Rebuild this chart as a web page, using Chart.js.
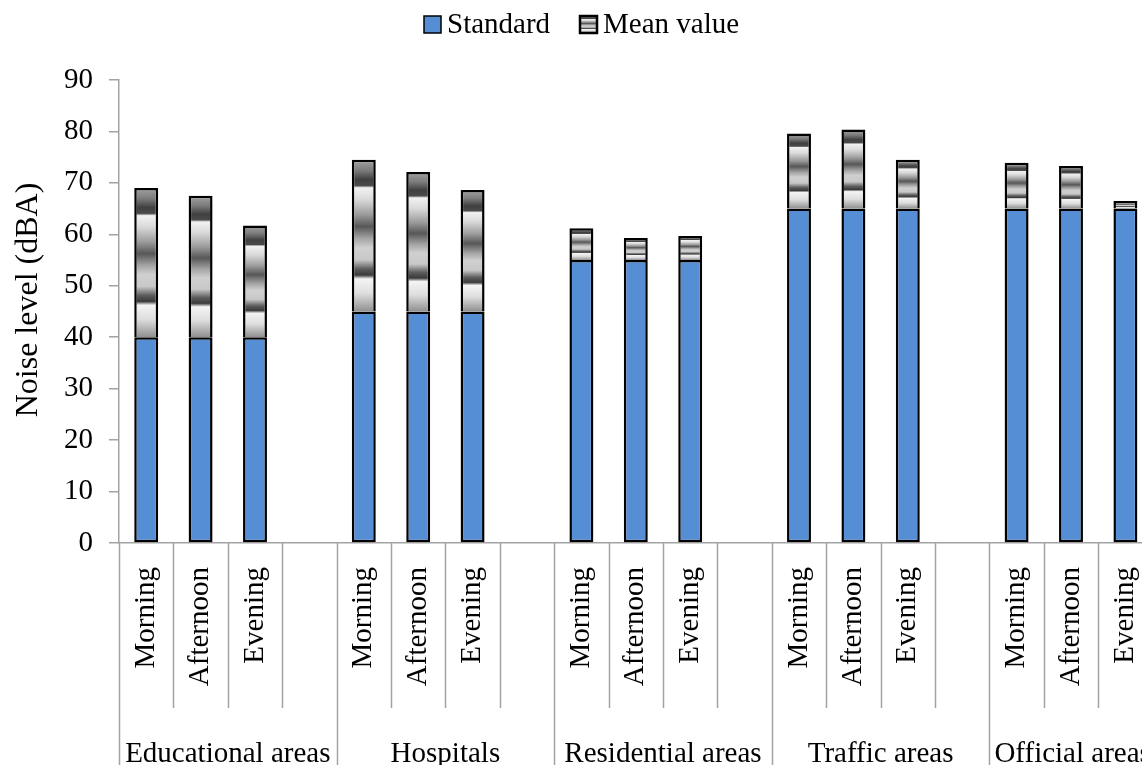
<!DOCTYPE html>
<html>
<head>
<meta charset="utf-8">
<script src="https://cdn.jsdelivr.net/npm/chart.js@4/dist/chart.umd.min.js"></script>
<style>
  html, body { margin: 0; padding: 0; background: #fff; width: 1142px; height: 765px; overflow: hidden; }
  #wrap { width: 1215px; height: 765px; }
</style>
</head>
<body>
<div id="wrap"><canvas id="c" width="1215" height="765"></canvas></div>
<script>
// Noise levels (dBA) by area type and time of day
const areas = ['Educational areas', 'Hospitals', 'Residential areas', 'Traffic areas', 'Official areas'];
const periods = ['Morning', 'Afternoon', 'Evening', ''];
const standardLevels = [40, 40, 40, null, 45, 45, 45, null, 55, 55, 55, null, 65, 65, 65, null, 65, 65, 65, null];
const meanLevels = [69.0, 67.5, 61.7, null, 74.5, 72.1, 68.6, null, 61.2, 59.3, 59.7, null, 79.6, 80.4, 74.5, null, 73.9, 73.3, 66.5, null];
const yTicks = [0, 10, 20, 30, 40, 50, 60, 70, 80, 90];

const labels = areas.flatMap(() => periods);
const FONT = 'Liberation Serif';
const TXT = 29;
const AXIS = '#a3a3a3';
const AXIS_Y = 543;

// banded grey fill used for the mean-value bars
const bandStops = [
  [0, '#a2a2a2'], [0.07, '#7c7c7c'], [0.13, '#404040'], [0.17, '#4a4a4a'], [0.185, '#f2f2f2'],
  [0.26, '#dadada'], [0.36, '#9c9c9c'], [0.44, '#575757'], [0.52, '#a5a5a5'], [0.58, '#d0d0d0'],
  [0.66, '#c8c8c8'], [0.72, '#5c5c5c'], [0.76, '#3a3a3a'], [0.785, '#f4f4f4'], [0.88, '#dedede'], [1, '#8f8f8f']
];
function bandGradient(ctx, top, bottom) {
  const g = ctx.createLinearGradient(0, top, 0, bottom);
  bandStops.forEach(([o, c]) => g.addColorStop(o, c));
  return g;
}

// legend, y title and two-level category axis
const decor = {
  id: 'decor',
  afterDraw(chart) {
    const { ctx, scales: { x }, chartArea } = chart;
    const n = labels.length;
    const half = (x.getPixelForValue(1) - x.getPixelForValue(0)) / 2;
    const bottom = chartArea.bottom;
    ctx.save();

    // separators below the axis
    ctx.strokeStyle = AXIS;
    ctx.lineWidth = 1.5;
    for (let i = 0; i <= n; i++) {
      const bx = Math.round(x.getPixelForValue(i) - half) + 0.5;
      const isGroup = i % periods.length === 0;
      ctx.beginPath();
      ctx.moveTo(bx, bottom);
      ctx.lineTo(bx, isGroup ? chart.height : 708);
      ctx.stroke();
    }

    // period labels, rotated
    ctx.fillStyle = '#000';
    ctx.font = `${TXT}px "${FONT}"`;
    labels.forEach((lab, i) => {
      if (!lab) return;
      ctx.save();
      ctx.translate(x.getPixelForValue(i), 567);
      ctx.rotate(-Math.PI / 2);
      ctx.textAlign = 'right';
      ctx.textBaseline = 'middle';
      ctx.fillText(lab, 0, 0);
      ctx.restore();
    });

    // area labels
    const viewRight = window.innerWidth;
    ctx.textAlign = 'center';
    ctx.textBaseline = 'alphabetic';
    areas.forEach((a, g) => {
      const left = x.getPixelForValue(g * periods.length) - half;
      const right = x.getPixelForValue((g + 1) * periods.length - 1) + half;
      const w = ctx.measureText(a).width;
      let cx = (left + right) / 2;
      if (cx + w / 2 > viewRight) cx = Math.max(left + w / 2 + 5, viewRight - w / 2);
      ctx.fillText(a, cx, 762);
    });

    // y axis title
    ctx.save();
    ctx.font = `32px "${FONT}"`;
    ctx.translate(29, 300);
    ctx.rotate(-Math.PI / 2);
    ctx.textAlign = 'center';
    ctx.textBaseline = 'middle';
    ctx.fillText('Noise level (dBA)', 0, 0);
    ctx.restore();

    // legend
    const items = [
      { text: 'Standard', x: 424 },
      { text: 'Mean value', x: 580 }
    ];
    const box = 17, by = 16;
    items.forEach((it, k) => {
      ctx.fillStyle = k === 0 ? chart.data.datasets[0].backgroundColor : bandGradient(ctx, by, by + box);
      ctx.fillRect(it.x, by, box, box);
      ctx.lineWidth = k === 0 ? 1.5 : 2.5;
      ctx.strokeStyle = '#000';
      ctx.strokeRect(it.x, by, box, box);
      ctx.fillStyle = '#000';
      ctx.textAlign = 'left';
      ctx.textBaseline = 'alphabetic';
      ctx.fillText(it.text, it.x + box + 6, 33);
    });
    ctx.restore();
  }
};

Chart.defaults.font.family = FONT;
Chart.defaults.color = '#000';

new Chart(document.getElementById('c'), {
  type: 'bar',
  data: {
    labels,
    datasets: [
      {
        label: 'Standard',
        data: standardLevels,
        backgroundColor: '#558ED5',
        borderColor: '#000',
        borderWidth: 2.5,
        borderSkipped: false,
        barPercentage: 0.44,
        categoryPercentage: 1
      },
      {
        label: 'Mean value',
        data: meanLevels.map((m, i) => (m == null ? null : [standardLevels[i], m])),
        backgroundColor: (c) => {
          const chart = c.chart;
          const i = c.dataIndex;
          if (!chart.chartArea || i == null || meanLevels[i] == null) return '#999';
          const top = chart.scales.y.getPixelForValue(meanLevels[i]);
          const bot = chart.scales.y.getPixelForValue(standardLevels[i]);
          if (!isFinite(top) || !isFinite(bot)) return '#999';
          return bandGradient(chart.ctx, top, bot);
        },
        borderColor: '#000',
        borderWidth: { top: 2.5, left: 2.5, right: 2.5, bottom: 0 },
        borderSkipped: 'start',
        barPercentage: 0.44,
        categoryPercentage: 1
      }
    ]
  },
  options: {
    responsive: false,
    animation: false,
    devicePixelRatio: 1,
    layout: { padding: { top: 80, right: 8, bottom: 0, left: 0 } },
    plugins: { legend: { display: false }, tooltip: { enabled: false } },
    scales: {
      x: {
        stacked: true,
        offset: true,
        ticks: { display: false },
        grid: { display: false },
        border: { display: true, color: AXIS, width: 1.5 },
        afterFit(s) { s.height = 765 - AXIS_Y; }
      },
      y: {
        min: 0,
        max: 90,
        afterBuildTicks(s) { s.ticks = yTicks.map(v => ({ value: v })); },
        ticks: { padding: 16, color: '#000', font: { family: FONT, size: TXT } },
        grid: { drawOnChartArea: false, tickLength: 10, color: AXIS, lineWidth: 1.5 },
        border: { color: AXIS, width: 1.5 },
        afterFit(s) { s.width = 119; }
      }
    }
  },
  plugins: [decor]
});
</script>
</body>
</html>
